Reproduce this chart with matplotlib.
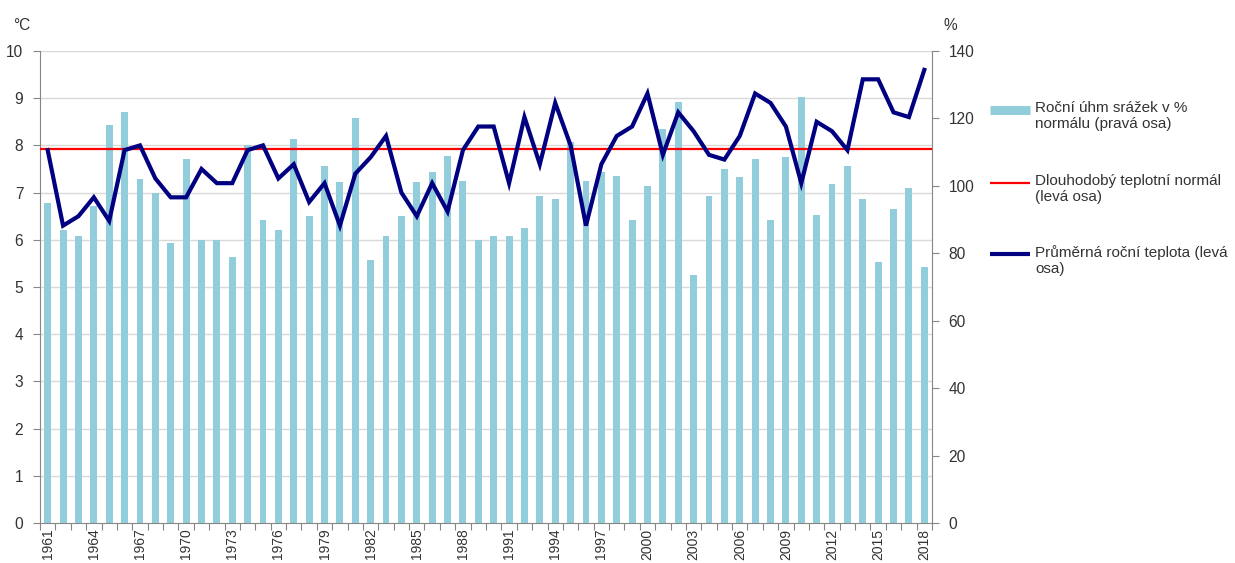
import matplotlib
matplotlib.use("Agg")
import matplotlib.pyplot as plt
from matplotlib.lines import Line2D
import numpy as np

plt.rcParams['font.family'] = ['Liberation Sans', 'DejaVu Sans']

years = list(range(1961, 2019))
temperature = [7.9, 6.3, 6.5, 6.9, 6.4, 7.9, 8.0, 7.3, 6.9, 6.9,
               7.5, 7.2, 7.2, 7.9, 8.0, 7.3, 7.6, 6.8, 7.2, 6.3,
               7.4, 7.75, 8.2, 7.0, 6.5, 7.2, 6.6, 7.9, 8.4, 8.4,
               7.2, 8.6, 7.6, 8.9, 8.0, 6.3, 7.6, 8.2, 8.4, 9.1,
               7.8, 8.7, 8.3, 7.8, 7.7, 8.2, 9.1, 8.9, 8.4, 7.2,
               8.5, 8.3, 7.9, 9.4, 9.4, 8.7, 8.6, 9.6]
precip_pct = [95, 87, 85, 94, 118, 122, 102, 98, 83, 108,
              84, 84, 79, 112, 90, 87, 114, 91, 106, 101,
              120, 78, 85, 91, 101, 104, 109, 101.5, 84, 85,
              85, 87.5, 97, 96, 113, 101.5, 104, 103, 90, 100,
              117, 125, 73.5, 97, 105, 102.5, 108, 90, 108.5, 126.5,
              91.5, 100.5, 106, 96, 77.5, 93, 99.5, 76]
temp_normal = 7.92
tick_years = list(range(1961, 2019, 3))

labels = ["Roční úhm srážek v %\nnormálu (pravá osa)",
          "Dlouhodobý teplotní normál\n(levá osa)",
          "Průměrná roční teplota (levá\nosa)"]

bar_color = '#92CDDC'
navy = '#000080'
red = '#FF0000'
grid_c = '#D9D9D9'
spine_c = '#868686'
text_c = '#333333'
fs = 11.2
fs_leg = 11
fs_x = 10

fig = plt.figure(figsize=(12.35, 5.63), dpi=100)
ax = fig.add_axes([40/1235, 1-523/563, (932-40)/1235, (523-51)/563])
ax2 = ax.twinx()

x = np.arange(len(years))
ax2.bar(x, precip_pct, width=0.45, color=bar_color, zorder=1)
ax2.set_ylim(0, 140)
ax2.set_yticks(range(0, 141, 20))

ax.set_zorder(ax2.get_zorder() + 1)
ax.patch.set_visible(False)
ax.plot([-0.5, len(years) - 0.5], [temp_normal, temp_normal], color=red, lw=1.6, zorder=3)
ax.plot(x, temperature, color=navy, lw=3.0, zorder=4, solid_joinstyle='miter')
ax.set_ylim(0, 10)
ax.set_yticks(range(0, 11))
ax.set_xlim(-0.5, len(years) - 0.5)

# gridlines drawn on the bar axes so they sit behind bars
for v in range(1, 11):
    ax2.axhline(v * 14, color=grid_c, lw=1.0, zorder=0)

ax.set_xticks(np.arange(-0.5, len(years), 1.0))
ax.set_xticklabels([])
ax.set_xticks([years.index(y) for y in tick_years], minor=True)
ax.set_xticklabels([str(y) for y in tick_years], minor=True, rotation=90,
                   fontsize=fs_x, color=text_c)
ax.tick_params(axis='x', which='major', length=5, direction='out', color=spine_c)
ax.tick_params(axis='x', which='minor', length=0, pad=4)
ax.tick_params(axis='y', length=5, color=spine_c, labelsize=fs, pad=7, labelcolor=text_c)
ax2.tick_params(axis='y', length=5, color=spine_c, labelsize=fs, pad=7, labelcolor=text_c)

for a in (ax, ax2):
    a.spines['top'].set_visible(False)
    for s in ('left', 'right', 'bottom'):
        a.spines[s].set_color(spine_c)
ax.spines['right'].set_visible(False)
ax2.spines['left'].set_visible(False)
ax2.spines['bottom'].set_visible(False)

fig.text(22/1235, 1-26/563, '°C', fontsize=fs, ha='center', va='center', color=text_c)
fig.text(950/1235, 1-26/563, '%', fontsize=fs, ha='center', va='center', color=text_c)

# legend
handles = [(bar_color, 6.5), (red, 1.6), (navy, 3.0)]
ys = [110, 183, 254]
for (c, lw), yy, lab in zip(handles, ys, labels):
    fig.add_artist(Line2D([990/1235, 1030/1235], [1-yy/563, 1-yy/563], color=c, lw=lw,
                          transform=fig.transFigure, solid_capstyle='butt'))
    fig.text(1035/1235, 1-(yy-9)/563, lab, fontsize=fs_leg, ha='left', va='top',
             linespacing=1.22, color=text_c)

fig.savefig('out.png', dpi=100)
